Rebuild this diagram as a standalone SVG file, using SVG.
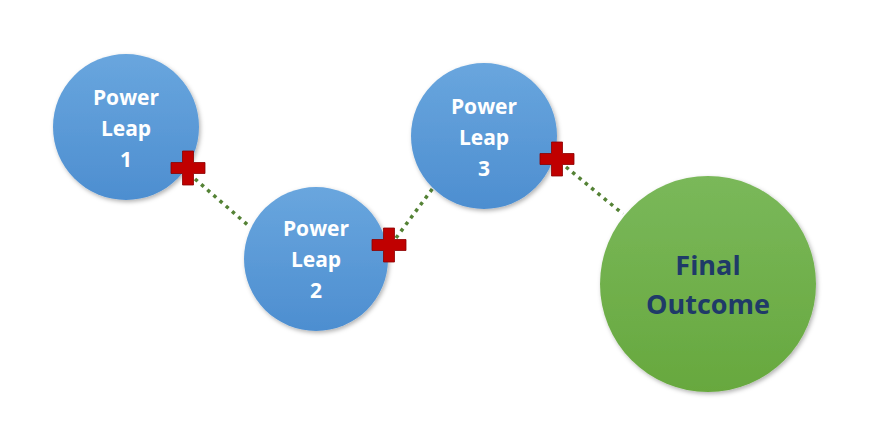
<svg xmlns="http://www.w3.org/2000/svg" width="870" height="440" viewBox="0 0 870 440">
  <defs>
    <linearGradient id="gBlue" x1="0" y1="0" x2="0" y2="1">
      <stop offset="0" stop-color="#69a6de"/>
      <stop offset="1" stop-color="#4d8ed0"/>
    </linearGradient>
    <linearGradient id="gGreen" x1="0" y1="0" x2="0" y2="1">
      <stop offset="0" stop-color="#7ab85a"/>
      <stop offset="1" stop-color="#67a83e"/>
    </linearGradient>
    <filter id="shadow" x="-20%" y="-20%" width="140%" height="140%">
      <feDropShadow dx="1.5" dy="2" stdDeviation="2" flood-color="#000" flood-opacity="0.3"/>
    </filter>
    <path id="plus" d="M -5.5,-17 H 5.5 V -5.5 H 17 V 5.5 H 5.5 V 17 H -5.5 V 5.5 H -17 V -5.5 H -5.5 Z"/>
  </defs>
  <style>
    .blue { fill: url(#gBlue); filter: url(#shadow); }
    .green { fill: url(#gGreen); filter: url(#shadow); }
    .lbl { font-family: "Open Sans", "Liberation Sans", sans-serif; font-weight: bold; font-size: 21px; fill: #ffffff; text-anchor: middle; }
    .lblBig { font-family: "Open Sans", "Liberation Sans", sans-serif; font-weight: bold; font-size: 27px; fill: #1f3a68; text-anchor: middle; }
    .dots { stroke: #548235; stroke-width: 3.5; stroke-dasharray: 3.5 4.7; fill: none; }
    .cross { fill: #c00000; stroke: #8a0000; stroke-width: 0.8; }
  </style>

  <g id="connectors">
    <line class="dots" x1="195" y1="179" x2="250" y2="227"/>
    <line class="dots" x1="396" y1="238" x2="433" y2="188"/>
    <line class="dots" x1="566" y1="167" x2="623" y2="214"/>
  </g>

  <g id="node-power-leap-1">
    <circle class="blue" cx="126" cy="127" r="73"/>
    <text class="lbl" x="126" y="105">Power</text>
    <text class="lbl" x="126" y="136">Leap</text>
    <text class="lbl" x="126" y="167">1</text>
  </g>

  <g id="node-power-leap-2">
    <circle class="blue" cx="316" cy="259" r="72"/>
    <text class="lbl" x="316" y="236">Power</text>
    <text class="lbl" x="316" y="267">Leap</text>
    <text class="lbl" x="316" y="298">2</text>
  </g>

  <g id="node-power-leap-3">
    <circle class="blue" cx="484" cy="136" r="73"/>
    <text class="lbl" x="484" y="114">Power</text>
    <text class="lbl" x="484" y="145">Leap</text>
    <text class="lbl" x="484" y="176">3</text>
  </g>

  <g id="node-final-outcome">
    <circle class="green" cx="708" cy="284" r="108"/>
    <text class="lblBig" x="708" y="275">Final</text>
    <text class="lblBig" x="708" y="314">Outcome</text>
  </g>

  <g id="crosses">
    <use href="#plus" class="cross" x="188" y="168"/>
    <use href="#plus" class="cross" x="389" y="245"/>
    <use href="#plus" class="cross" x="557" y="159"/>
  </g>
</svg>
